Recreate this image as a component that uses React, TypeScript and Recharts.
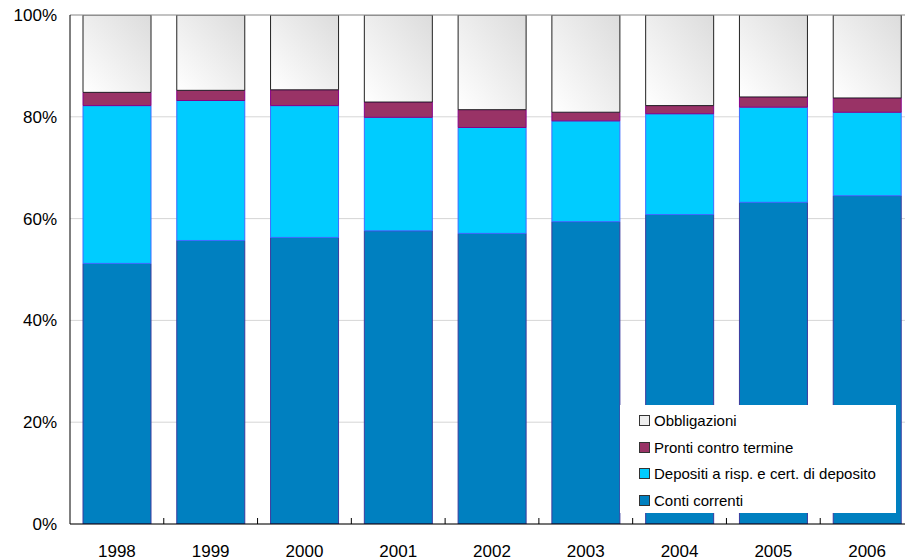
import React from "react";
import {
  BarChart,
  Bar,
  XAxis,
  YAxis,
  CartesianGrid,
  Legend,
  ReferenceLine,
} from "recharts";

// Composizione percentuale delle attività finanziarie, 1998–2006
const years = ["1998", "1999", "2000", "2001", "2002", "2003", "2004", "2005", "2006"];
const contiCorrenti = [51.2, 55.7, 56.3, 57.6, 57.1, 59.4, 60.8, 63.2, 64.5];
const depositi = [31.0, 27.5, 25.9, 22.3, 20.8, 19.8, 19.8, 18.7, 16.4];
const prontiContro = [2.6, 2.0, 3.1, 3.0, 3.5, 1.7, 1.6, 2.0, 2.8];
const obbligazioni = [15.2, 14.8, 14.7, 17.1, 18.6, 19.1, 17.8, 16.1, 16.3];
const yTicks = [0, 20, 40, 60, 80, 100];

const series = [
  { key: "conti", name: "Conti correnti", fill: "#0080C0", stroke: "#3A3A9E", swatch: "#0080C0" },
  { key: "depositi", name: "Depositi a risp. e cert. di deposito", fill: "#00CCFF", stroke: "#3F6BFF", swatch: "#00CCFF" },
  { key: "pronti", name: "Pronti contro termine", fill: "#993366", stroke: "#880088", swatch: "#993366" },
  { key: "obbl", name: "Obbligazioni", fill: "url(#obblGrad)", stroke: "#222222", swatch: "#EEEEEE" },
];

const data = years.map((year, i) => ({
  year,
  conti: contiCorrenti[i],
  depositi: depositi[i],
  pronti: prontiContro[i],
  obbl: obbligazioni[i],
}));

const FONT = "'Liberation Sans', Arial, sans-serif";
const CHART_W = 918;
const CHART_H = 560;
const MARGIN = { top: 15, right: 4, bottom: 0, left: 0 };
const Y_AXIS_W = 70;
const PLOT_W = CHART_W - MARGIN.left - MARGIN.right - Y_AXIS_W;
const BAND = PLOT_W / years.length;

// Year label plus a small inward tick at the right boundary of each category
const YearTick = (props: any) => {
  const { x, y, payload } = props;
  const bx = x + BAND / 2;
  return (
    <g>
      <line x1={bx} x2={bx} y1={y} y2={y - 6} stroke="#000" strokeWidth={1} />
      <text
        x={x}
        y={y + 33}
        textAnchor="middle"
        fontFamily={FONT}
        fontSize={17}
        fill="#000"
      >
        {payload.value}
      </text>
    </g>
  );
};

const LegendBox = () => (
  <div
    style={{
      background: "#fff",
      width: 276,
      height: 108,
      boxSizing: "border-box",
      paddingTop: 2,
      paddingLeft: 19,
      fontFamily: FONT,
      fontSize: 15,
      color: "#000",
    }}
  >
    {[...series].reverse().map((s) => (
      <div
        key={s.key}
        style={{ display: "flex", alignItems: "center", height: 26.7, whiteSpace: "nowrap" }}
      >
        <span
          style={{
            display: "inline-block",
            width: 9,
            height: 9,
            background: s.swatch,
            border: "1px solid #333",
            marginRight: 4,
          }}
        />
        <span>{s.name}</span>
      </div>
    ))}
  </div>
);

export default function App() {
  return (
    <div
      style={{
        position: "absolute",
        left: 0,
        top: 0,
        width: 905,
        height: 560,
        overflow: "hidden",
        background: "#fff",
      }}
    >
      <BarChart width={CHART_W} height={CHART_H} data={data} margin={MARGIN} barSize={68}>
        <defs>
          <linearGradient id="obblGrad" x1="0" y1="1" x2="1" y2="0">
            <stop offset="0%" stopColor="#FFFFFF" />
            <stop offset="100%" stopColor="#DCDCDC" />
          </linearGradient>
        </defs>
        <CartesianGrid vertical={false} stroke="#D6D6D6" />
        <ReferenceLine y={100} stroke="#9A9A9A" />
        <XAxis
          dataKey="year"
          height={36}
          tickLine={false}
          tickSize={0}
          tickMargin={0}
          axisLine={{ stroke: "#000" }}
          tick={<YearTick />}
          interval={0}
        />
        <YAxis
          width={Y_AXIS_W}
          domain={[0, 100]}
          ticks={yTicks}
          tickFormatter={(v: number) => `${v}%`}
          tickLine={false}
          tickSize={0}
          tickMargin={13}
          axisLine={{ stroke: "#000" }}
          tick={{ fontFamily: FONT, fontSize: 17, fill: "#000" }}
          allowDataOverflow
        />
        {series.map((s) => (
          <Bar
            key={s.key}
            dataKey={s.key}
            name={s.name}
            stackId="tot"
            fill={s.fill}
            stroke={s.stroke}
            strokeWidth={1}
            isAnimationActive={false}
          />
        ))}
        <Legend
          layout="vertical"
          align="center"
          verticalAlign="middle"
          content={<LegendBox />}
          wrapperStyle={{ left: 620, top: 405, width: 276, height: 108 }}
        />
      </BarChart>
    </div>
  );
}
